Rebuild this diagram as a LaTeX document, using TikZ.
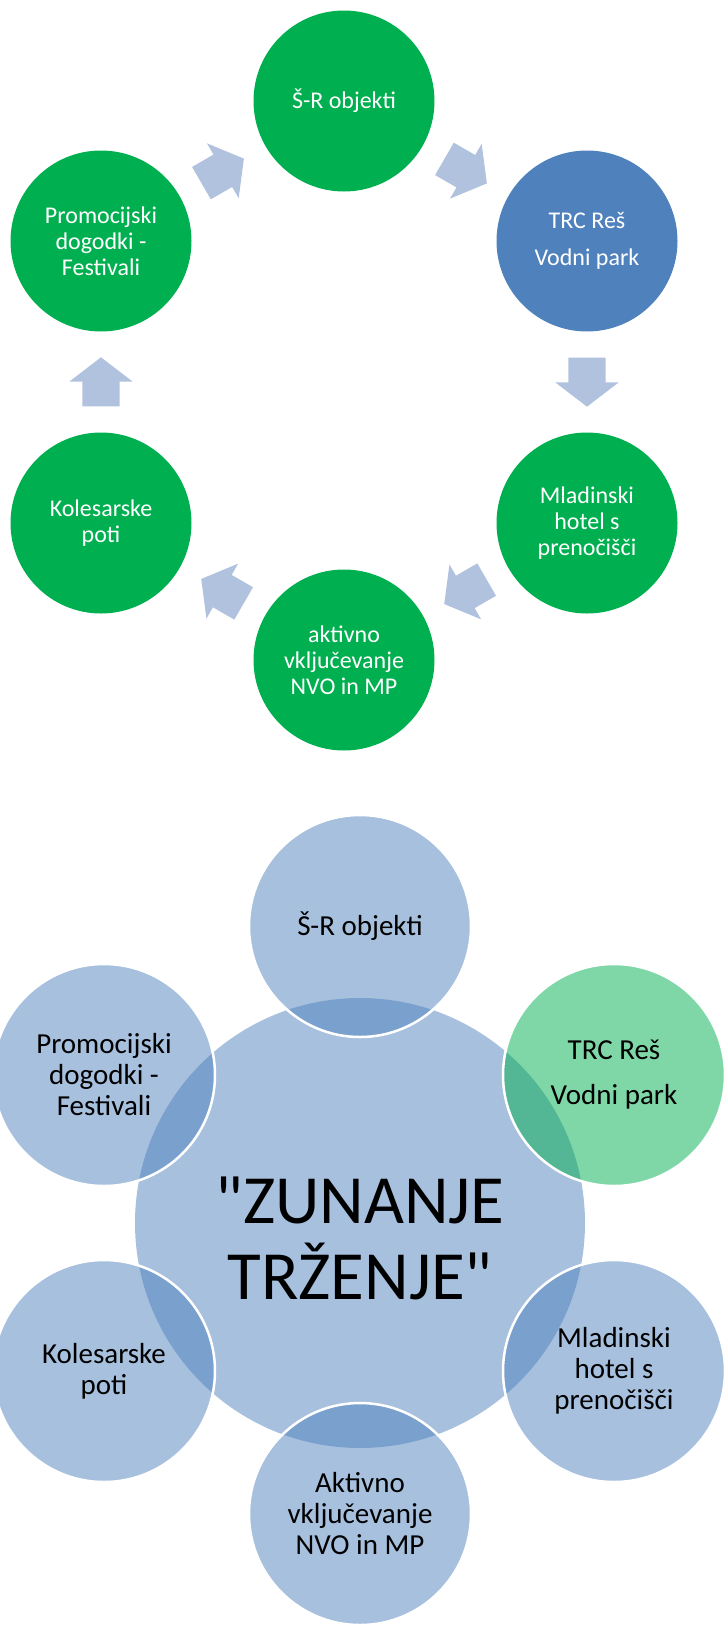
\documentclass[tikz,border=0pt]{standalone}
\usepackage{fontspec}
\setmainfont{Carlito}[Ligatures=TeXOff]
\usetikzlibrary{shapes.arrows,calc}
\definecolor{cyclegreen}{HTML}{00B050}
\definecolor{cycleblue}{HTML}{4F81BD}
\definecolor{arrowblue}{HTML}{B0C2DE}
\begin{document}
\begin{tikzpicture}[x=1pt,y=1pt,
  cyclenode/.style={circle,fill=cyclegreen,minimum size=181pt,inner sep=0pt,text=white,align=center,font=\fontsize{24}{26}\selectfont},
  cyclearrow/.style={single arrow,fill=arrowblue,minimum height=49pt,minimum width=63pt,single arrow head extend=13pt,single arrow tip angle=105,inner xsep=0pt,inner ysep=18.5pt,anchor=tail},
  venn/.style={circle,fill=cycleblue,fill opacity=0.5,text opacity=1,draw=white,line width=2.5pt,minimum size=222pt,inner sep=0pt,align=center,font=\fontsize{29}{31}\selectfont},
  vennhub/.style={circle,fill=cycleblue,fill opacity=0.5,minimum size=450pt,inner sep=0pt},
  hubtext/.style={align=center,inner sep=0pt,font=\fontsize{69}{76}\selectfont}]
\useasboundingbox (0,0) rectangle (724,-1628);
% upper cycle
\node [cyclenode] (sr) at (344,-101) {Š-R objekti};
\node [cyclenode,fill=cycleblue] (trc) at (587,-241) {TRC Reš\\[11pt]Vodni park};
\node [cyclenode] (mlad) at (587,-523) {Mladinski\\hotel s\\prenočišči};
\node [cyclenode] (akt) at (344,-660) {aktivno\\vključevanje\\NVO in MP};
\node [cyclenode] (kol) at (101,-523) {Kolesarske\\poti};
\node [cyclenode] (promo) at (101,-241) {Promocijski\\dogodki -\\Festivali};
\node [cyclearrow,rotate=-30] (a1) at ($(sr)!0.5!(trc)!24.5pt!(sr)$) {};
\node [cyclearrow,rotate=-90] (a2) at ($(trc)!0.5!(mlad)!24.5pt!(trc)$) {};
\node [cyclearrow,rotate=-150] (a3) at ($(mlad)!0.5!(akt)!24.5pt!(mlad)$) {};
\node [cyclearrow,rotate=150] (a4) at ($(akt)!0.5!(kol)!24.5pt!(akt)$) {};
\node [cyclearrow,rotate=90] (a5) at ($(kol)!0.5!(promo)!24.5pt!(kol)$) {};
\node [cyclearrow,rotate=30] (a6) at ($(promo)!0.5!(sr)!24.5pt!(promo)$) {};
% lower radial venn
\node [vennhub] (hub) at (360,-1223) {};
\node [hubtext] (title) at (360,-1238) {"ZUNANJE\\TRŽENJE"};
\node [venn] (sr2) at (360,-926) {Š-R objekti};
\node [venn,fill=cyclegreen] (trc2) at (614,-1075) {TRC Reš\\[14pt]Vodni park};
\node [venn] (mlad2) at (614,-1371) {Mladinski\\hotel s\\prenočišči};
\node [venn] (akt2) at (360,-1514) {Aktivno\\vključevanje\\NVO in MP};
\node [venn] (kol2) at (104,-1371) {Kolesarske\\poti};
\node [venn] (promo2) at (104,-1075) {Promocijski\\dogodki -\\Festivali};
\end{tikzpicture}
\end{document}
